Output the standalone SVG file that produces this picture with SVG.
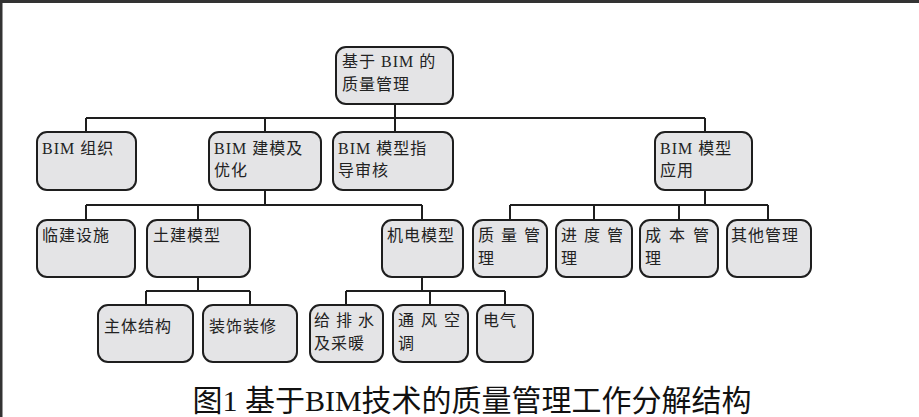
<svg xmlns="http://www.w3.org/2000/svg" width="919" height="417" viewBox="0 0 919 417">
<style>
.b{fill:#e4e4e6;stroke:#1e1e1e;stroke-width:2}
.t{font-family:"Liberation Serif","Noto Sans CJK SC",serif;font-size:16px;fill:#222;letter-spacing:1px}
.c{fill:none;stroke:#1e1e1e;stroke-width:2}
.cap{font-family:"Liberation Serif","Noto Sans CJK SC",serif;font-size:30px;fill:#111}
</style>
<rect width="919" height="417" fill="#fff"/>
<path d="M1,417V1.5H919" fill="none" stroke="#333" stroke-width="3"/>
<g id="connectors" class="c">
<path d="M395,104V118M86,118H705M86,118V132M265,118V132M395,118V132M705,118V132"/>
<path d="M265,190V205M86,205H422M86,205V220M198,205V220M422,205V220"/>
<path d="M705,190V205M510,205H768M510,205V220M594,205V220M679,205V220M768,205V220"/>
<path d="M198,277V291M146,291H250M146,291V305M250,291V305"/>
<path d="M422,277V291M346,291H505M346,291V305M430,291V305M505,291V305"/>
</g>
<g id="root"><rect class="b" x="336" y="47" width="117" height="57" rx="10"/><text class="t" x="342" y="67">基于 BIM 的</text><text class="t" x="342" y="90">质量管理</text></g>
<g id="n1"><rect class="b" x="37" y="132" width="99" height="58" rx="10"/><text class="t" x="42" y="154">BIM 组织</text></g>
<g id="n2"><rect class="b" x="209" y="132" width="112" height="58" rx="10"/><text class="t" x="214" y="154">BIM 建模及</text><text class="t" x="214" y="176">优化</text></g>
<g id="n3"><rect class="b" x="333" y="132" width="120" height="58" rx="10"/><text class="t" x="338" y="154">BIM 模型指</text><text class="t" x="338" y="176">导审核</text></g>
<g id="n4"><rect class="b" x="655" y="132" width="97" height="58" rx="10"/><text class="t" x="660" y="154">BIM 模型</text><text class="t" x="660" y="176">应用</text></g>
<g id="n5"><rect class="b" x="37" y="220" width="98" height="57" rx="10"/><text class="t" x="42" y="241">临建设施</text></g>
<g id="n6"><rect class="b" x="147" y="220" width="103" height="57" rx="10"/><text class="t" x="153" y="241">土建模型</text></g>
<g id="n7"><rect class="b" x="382" y="220" width="81" height="57" rx="10"/><text class="t" x="387" y="241">机电模型</text></g>
<g id="n8"><rect class="b" x="473" y="220" width="74" height="57" rx="10"/><text class="t" x="478" y="241" style="letter-spacing:7px">质量管</text><text class="t" x="478" y="264">理</text></g>
<g id="n9"><rect class="b" x="556" y="220" width="76" height="57" rx="10"/><text class="t" x="561" y="241" style="letter-spacing:7px">进度管</text><text class="t" x="561" y="264">理</text></g>
<g id="n10"><rect class="b" x="640" y="220" width="78" height="57" rx="10"/><text class="t" x="645" y="241" style="letter-spacing:8px">成本管</text><text class="t" x="645" y="264">理</text></g>
<g id="n11"><rect class="b" x="727" y="220" width="84" height="57" rx="10"/><text class="t" x="731" y="241">其他管理</text></g>
<g id="n12"><rect class="b" x="98" y="305" width="95" height="57" rx="10"/><text class="t" x="104" y="332">主体结构</text></g>
<g id="n13"><rect class="b" x="203" y="305" width="94" height="57" rx="10"/><text class="t" x="209" y="332">装饰装修</text></g>
<g id="n14"><rect class="b" x="310" y="305" width="73" height="57" rx="10"/><text class="t" x="314" y="326" style="letter-spacing:6px">给排水</text><text class="t" x="314" y="349">及采暖</text></g>
<g id="n15"><rect class="b" x="393" y="305" width="75" height="57" rx="10"/><text class="t" x="398" y="326" style="letter-spacing:7px">通风空</text><text class="t" x="398" y="349">调</text></g>
<g id="n16"><rect class="b" x="477" y="305" width="56" height="57" rx="10"/><text class="t" x="483" y="326">电气</text></g>
<text class="cap" x="472" y="411" text-anchor="middle">图1 基于BIM技术的质量管理工作分解结构</text>
</svg>
